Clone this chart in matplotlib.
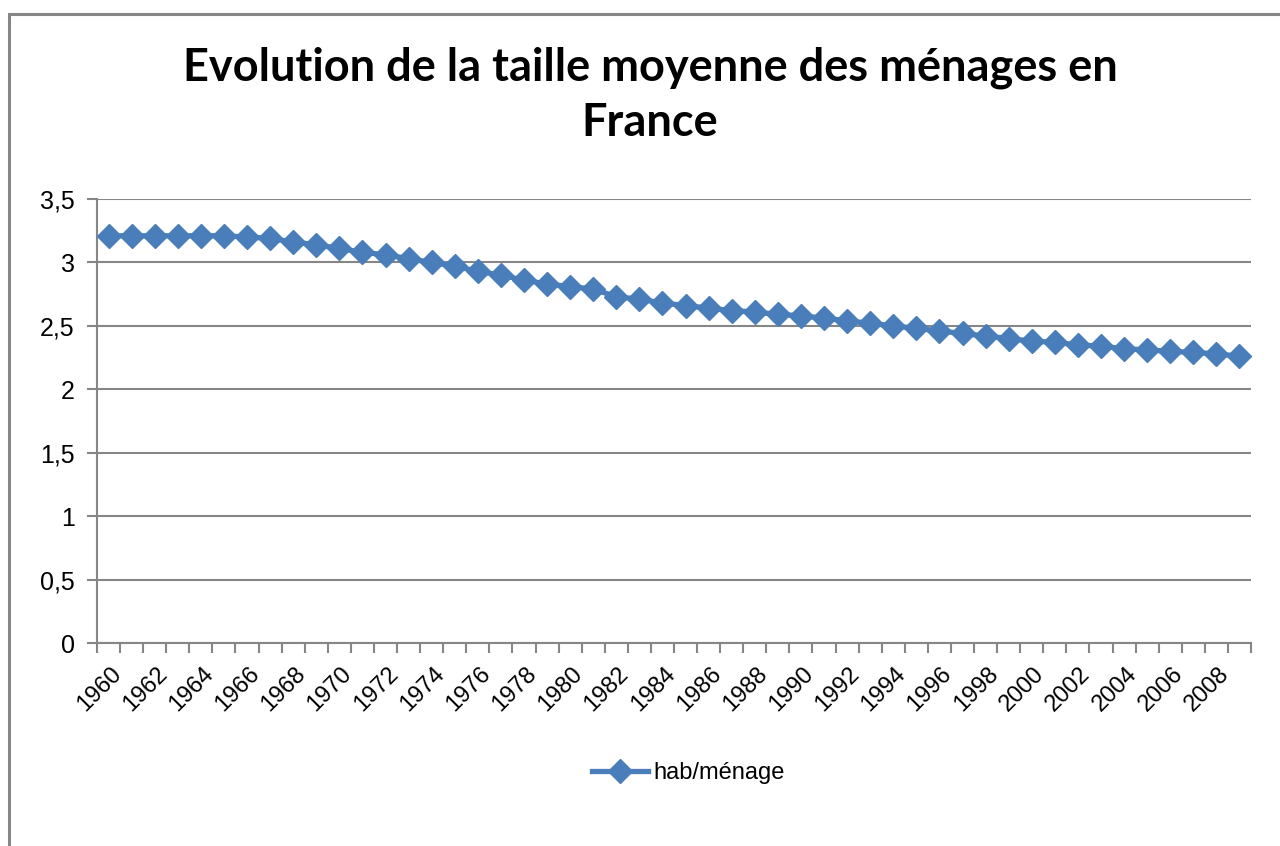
import matplotlib
matplotlib.use("Agg")
import matplotlib.pyplot as plt
from matplotlib.patches import Rectangle
import numpy as np

annees = list(range(1960, 2010))
hab_menage = [3.21, 3.21, 3.21, 3.21, 3.21, 3.21, 3.20, 3.19, 3.16, 3.14,
              3.11, 3.08, 3.06, 3.03, 3.00, 2.97, 2.93, 2.90, 2.86, 2.83,
              2.81, 2.79, 2.73, 2.71, 2.68, 2.66, 2.64, 2.62, 2.61, 2.59,
              2.58, 2.56, 2.54, 2.52, 2.50, 2.48, 2.46, 2.44, 2.42, 2.40,
              2.38, 2.37, 2.35, 2.34, 2.32, 2.31, 2.30, 2.29, 2.28, 2.26]

plt.rcParams['font.family'] = ['Liberation Sans', 'DejaVu Sans']

fig = plt.figure(figsize=(12.8, 8.46), dpi=100)
ax = fig.add_axes([97 / 1280, 1 - 643 / 846, (1251 - 97) / 1280, (643 - 199) / 846])

# cadre du graphique
fig.patches.append(Rectangle((9 / 1280, -0.1), 1.2, 1 - 14 / 846 + 0.1,
                             transform=fig.transFigure, fill=False,
                             edgecolor='#868686', linewidth=2.2))

x = np.arange(len(annees))
ax.plot(x, hab_menage, color='#4A7EBB', linewidth=3.8, marker='D',
        markersize=12.5, label='hab/ménage', zorder=3)

ax.set_xlim(-0.5, len(annees) - 0.5)
ax.set_ylim(0, 3.5)
ax.set_yticks(np.arange(0, 3.51, 0.5))
ax.set_yticklabels(['0', '0,5', '1', '1,5', '2', '2,5', '3', '3,5'], fontsize=18)
ax.yaxis.grid(True, color='#868686', linewidth=1.5)
ax.set_axisbelow(True)

ax.set_xticks(np.arange(-0.5, len(annees)), labels=[])
ax.set_xticks(x[::2] + 0.4, labels=[str(a) for a in annees[::2]], minor=True)
ax.tick_params(axis='x', which='major', length=7, width=1.5, color='#868686')
ax.tick_params(axis='x', which='minor', length=0, pad=20, labelsize=17)
ax.tick_params(axis='y', length=7, width=1.5, color='#868686', pad=9)
for lab in ax.get_xticklabels(minor=True):
    lab.set_rotation(45)
    lab.set_ha('right')
    lab.set_va('center')
    lab.set_rotation_mode('anchor')

for s in ['top', 'right']:
    ax.spines[s].set_visible(False)
for s in ['left', 'bottom']:
    ax.spines[s].set_color('#868686')
    ax.spines[s].set_linewidth(1.5)

fig.text(650 / 1280, 1 - 68 / 846, 'Evolution de la taille moyenne des ménages en',
         ha='center', va='center', fontsize=32.5, fontweight='bold', family='Lato')
fig.text(650 / 1280, 1 - 123 / 846, 'France',
         ha='center', va='center', fontsize=32.5, fontweight='bold', family='Lato')

fig.legend(loc='center', bbox_to_anchor=(688 / 1280, 1 - 773 / 846), frameon=False,
           fontsize=17, handlelength=2.4, handletextpad=0.2)

fig.savefig('out.png', dpi=100)
plt.close()
